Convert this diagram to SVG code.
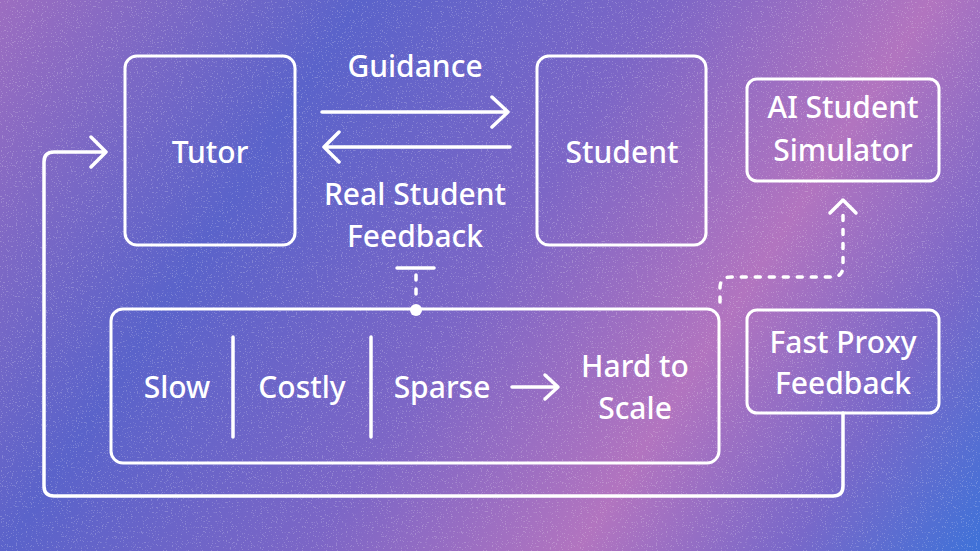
<svg xmlns="http://www.w3.org/2000/svg" width="980" height="551" viewBox="0 0 980 551">
<defs>
<linearGradient id="bg" gradientUnits="userSpaceOnUse" x1="0" y1="0" x2="942" y2="605">
<stop offset="0" stop-color="#9c6dc0"/>
<stop offset="0.27" stop-color="#5a63ca"/>
<stop offset="0.5" stop-color="#7c66c6"/>
<stop offset="0.7" stop-color="#b274bf"/>
<stop offset="0.86" stop-color="#7868c9"/>
<stop offset="1" stop-color="#3f72d8"/>
</linearGradient>
<filter id="speck" x="0" y="0" width="100%" height="100%">
<feTurbulence type="fractalNoise" baseFrequency="0.8" numOctaves="2" seed="3"/>
<feColorMatrix type="matrix" values="0 0 0 0 1  0 0 0 0 1  0 0 0 0 1  0 0 0 12 -7.6"/>
</filter>
<style>
.box{fill:none;stroke:#fff;stroke-width:3}
.ln{fill:none;stroke:#fff;stroke-width:3.5;stroke-linecap:round;stroke-linejoin:round}
.dash{fill:none;stroke:#fff;stroke-width:3.5;stroke-linecap:round;stroke-dasharray:5 9}
text{font-family:"Noto Sans","Open Sans","Liberation Sans",sans-serif;font-weight:500;font-size:30px;fill:#fff;text-anchor:middle}
</style>
</defs>
<rect width="980" height="551" fill="url(#bg)"/>
<rect width="980" height="551" filter="url(#speck)" opacity="0.2"/>
<g id="connectors">
<path class="ln" d="M322 112 H508 M492 97 L508 112 L492 127"/>
<path class="ln" d="M510 147 H324 M339 132 L324 147 L339 162"/>
<path class="ln" d="M397 268 H434"/>
<path class="dash" d="M416 275 V300"/>
<circle cx="416" cy="310" r="6" fill="#fff"/>
<path class="dash" d="M720 302 V288 Q720 277 731 277 H832 Q843 277 843 266 V210"/>
<path class="ln" d="M830 213 L843 200 L856 213"/>
<path class="ln" d="M843 413 V486 Q843 496 833 496 H54 Q44 496 44 486 V162 Q44 152 54 152 H105 M91 137 L106 152 L91 167"/>
<path class="ln" d="M512 387 H557 M545 375 L558 387 L545 399"/>
</g>
<g id="tutor"><rect class="box" x="125" y="56" width="170" height="189" rx="12"/><text x="210" y="163">Tutor</text></g>
<g id="student"><rect class="box" x="537" y="56" width="169" height="189" rx="12"/><text x="622" y="163">Student</text></g>
<g id="ai-sim"><rect class="box" x="747" y="79" width="192" height="102" rx="10"/><text x="843" y="118">AI Student</text><text x="843" y="161">Simulator</text></g>
<g id="fast-proxy"><rect class="box" x="747" y="310" width="192" height="103" rx="10"/><text x="843" y="353">Fast Proxy</text><text x="843" y="394">Feedback</text></g>
<g id="guidance-label"><text x="415" y="77">Guidance</text></g>
<g id="real-feedback-label"><text x="415" y="205">Real Student</text><text x="415" y="247">Feedback</text></g>
<g id="limits"><rect class="box" x="111" y="309" width="608" height="154" rx="12"/>
<path class="ln" d="M233 337 V437 M371 337 V437" stroke-width="3"/>
<text x="177" y="398">Slow</text><text x="302" y="398">Costly</text><text x="442" y="398">Sparse</text>
<text x="635" y="377">Hard to</text><text x="635" y="419">Scale</text></g>
</svg>
